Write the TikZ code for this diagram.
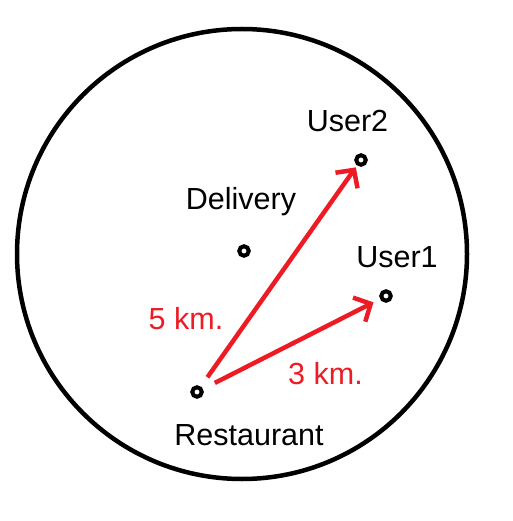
\documentclass[tikz,border=0pt]{standalone}
\usepackage{fontspec}
\setmainfont{Liberation Sans}
\usetikzlibrary{arrows.meta}
\definecolor{pred}{RGB}{237,28,36}
\begin{document}
\begin{tikzpicture}[x=1pt,y=-1pt,
  dot/.style={circle,draw=black,line width=4pt,minimum size=9.5pt,inner sep=0pt},
  lbl/.style={font=\fontsize{30.5}{30.5}\selectfont,inner sep=0pt,anchor=base},
  dist/.style={lbl,text=pred},
  arr/.style={draw=pred,line width=4.5pt,-{Straight Barb[length=13pt,width=27pt]}}]
\useasboundingbox (0,0) rectangle (512,521);
\draw[line width=4.5pt] (242,254) circle[radius=225pt];
\node[dot] (rest) at (197,392) {};
\node[dot] (deliv) at (244,251) {};
\node[dot] (u2) at (361,160) {};
\node[dot] (u1) at (386,296) {};
\node[lbl] (tu2) at (347.5,132) {User2};
\node[lbl] (tdel) at (241,209) {Delivery};
\node[lbl] (tu1) at (397,267) {User1};
\node[lbl] (trest) at (249,445) {Restaurant};
\node[dist] (t5) at (186,329) {5 km.};
\node[dist] (t3) at (325.5,384) {3 km.};
\draw[arr,shorten <=18pt,shorten >=9pt] (rest.center) -- (u2.center);
\draw[arr,shorten <=20pt,shorten >=14pt] (rest.center) -- (u1.center);
\end{tikzpicture}
\end{document}
